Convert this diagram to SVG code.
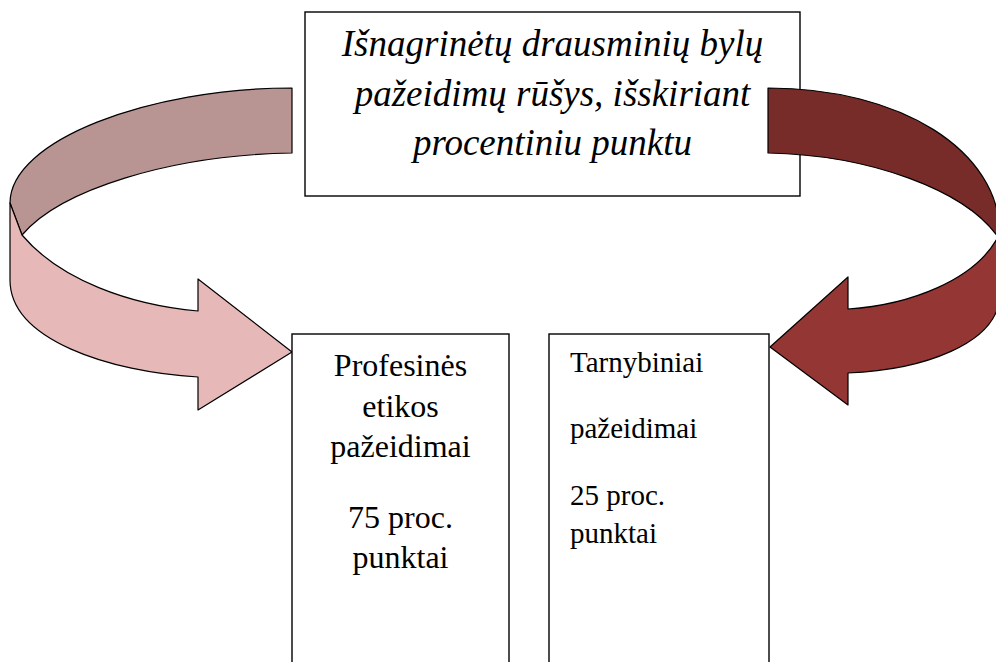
<svg xmlns="http://www.w3.org/2000/svg" width="996" height="662" viewBox="0 0 996 662">
<style>
.box{fill:#fff;stroke:#000;stroke-width:1.4}
.edge{stroke:#000;stroke-width:1.2;stroke-linejoin:round}
.t{font-family:"Liberation Serif","Times New Roman",serif;fill:#000}
.ti{font-family:"Liberation Serif","Times New Roman",serif;font-style:italic;font-size:37px;fill:#000}
</style>
<rect width="996" height="662" fill="#fff"/>
<g id="top">
<rect class="box" x="305" y="12" width="495" height="184"/>
<text class="ti" text-anchor="middle" x="552.5" y="56">Išnagrinėtų drausminių bylų</text>
<text class="ti" text-anchor="middle" x="552.5" y="106">pažeidimų rūšys, išskiriant</text>
<text class="ti" text-anchor="middle" x="552.5" y="155">procentiniu punktu</text>
</g>
<g id="connectors">
<g id="arrow-left">
<path class="edge" fill="#B89492" d="M292,88 C150,88 10,140 10,203 L22,235 C60,190 170,155 292,153 Z"/>
<path class="edge" fill="#E6B9B8" d="M10,203 L10,280 C10,340 110,372 198,377 L198,410 L292,352 L198,279 L198,311 C130,305 60,280 22,235 Z"/>
</g>
<g id="arrow-right">
<path class="edge" fill="#772C2A" d="M768,88 C900,88 1000,150 1000,235 L998,237 C965,190 870,155 768,153 Z"/>
<path class="edge" fill="#943634" d="M998,237 L1000,235 L1000,293 C1000,345 920,370 848,373 L848,405 L770,347 L848,277 L848,309 C910,305 975,280 998,237 Z"/>
</g>
</g>
<g id="left-box">
<rect class="box" x="292" y="334" width="217" height="340"/>
<g class="t" font-size="32" text-anchor="middle">
<text x="400.5" y="376">Profesinės</text>
<text x="400.5" y="417">etikos</text>
<text x="400.5" y="457">pažeidimai</text>
<text x="400.5" y="528">75 proc.</text>
<text x="400.5" y="568">punktai</text>
</g>
</g>
<g id="right-box">
<rect class="box" x="549" y="334" width="220" height="340"/>
<g class="t" font-size="29">
<text x="570" y="372">Tarnybiniai</text>
<text x="570" y="438">pažeidimai</text>
<text x="570" y="505">25 proc.</text>
<text x="570" y="543">punktai</text>
</g>
</g>
</svg>
